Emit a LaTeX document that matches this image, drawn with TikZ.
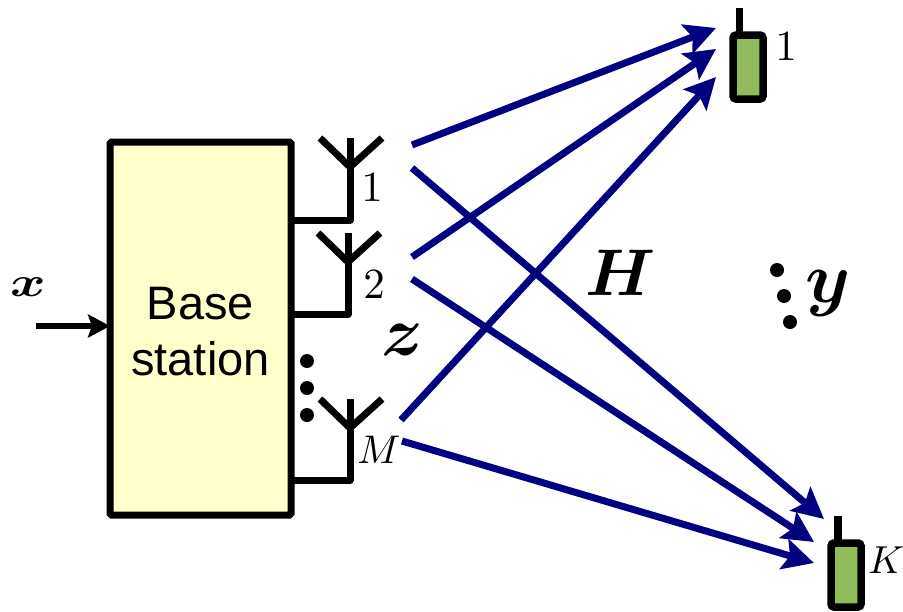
\documentclass[tikz,border=0pt]{standalone}
\usepackage{amsmath}
\usepackage{amssymb}
\usepackage{bm}
\usepackage{fontspec}
\setmainfont{Liberation Sans}
\usetikzlibrary{arrows.meta}
\definecolor{basefill}{HTML}{FFFFCC}
\definecolor{phonefill}{HTML}{92BB5C}
\definecolor{linkblue}{HTML}{000080}
\tikzset{
  every node/.style={inner sep=0pt,outer sep=0pt},
  wire/.style={draw=black,line width=7pt,line join=round},
  basebox/.style={draw=black,line width=7pt,fill=basefill,rounded corners=1.5pt,minimum width=181pt,minimum height=373pt},
  basetext/.style={align=center,font=\fontsize{47}{56}\selectfont},
  phonebody/.style={draw=black,line width=7.5pt,fill=phonefill,rounded corners=3pt,minimum width=30pt,minimum height=64pt},
  dotmark/.style={circle,fill=black,minimum size=14pt},
  link/.style={draw=linkblue,line width=7pt,-{Stealth[length=31pt,width=31pt,inset=6pt]}},
}
\begin{document}
\begin{tikzpicture}[x=1pt,y=-1pt]
\useasboundingbox (0,0) rectangle (903,611);
% base station
\node[basebox] (base) at (200.5,328.5) {};
\node[basetext,yshift=-3.5pt] (basename) at (base.center) {Base\\station};
% input
\coordinate (xin) at (36,326);
\draw[draw=black,line width=6.5pt,-{Stealth[length=22pt,width=23pt,inset=4pt]}] (xin) -- (xin -| base.west);
\node[xscale=5.4,yscale=4.2] (xlab) at (28,287) {$\boldsymbol{x}$};
% antennas
\foreach \n/\sx/\stop/\vb/\hy in {A/350/138/167/220,B/348/233/262/314,C/350/399/428/480}{
  \coordinate (\n top) at (\sx,\stop);
  \coordinate (\n v) at (\sx,\vb);
  \coordinate (\n foot) at (\sx,\hy);
  \coordinate (\n feed) at (291,\hy);
  \coordinate (\n left) at (\sx-30,\stop);
  \coordinate (\n right) at (\sx+32,\stop);
  \draw[wire] (\n top) -- (\n foot) -- (\n feed);
  \draw[wire] (\n left) -- (\n v) -- (\n right);
}
\node[scale=4.3] (l1) at (372,188) {$1$};
\node[scale=4.3] (l2) at (374,285) {$2$};
\node[scale=4] (lM) at (379,450) {$M$};
% dots by antennas
\node[dotmark] (d1) at (307,361) {};
\node[dotmark] (d2) at (307,388) {};
\node[dotmark] (d3) at (307,415) {};
% phones
\node[phonebody] (p1) at (748,67) {};
\coordinate (p1a) at (739.5,8);
\draw[wire,line width=7.5pt] (p1a) -- (739.5,33);
\node[scale=4.3] (pl1) at (786,47) {$1$};
\node[phonebody] (pK) at (846,575) {};
\coordinate (pKa) at (838,516);
\draw[wire,line width=7.5pt] (pKa) -- (838,541);
\node[scale=3.9] (plK) at (886,560) {$K$};
% links
\coordinate (s1a) at (412,145);
\coordinate (s1b) at (412,168);
\coordinate (s2a) at (412,257);
\coordinate (s2b) at (412,279);
\coordinate (s3a) at (401,420);
\coordinate (s3b) at (402,441);
\coordinate (t1a) at (716,28);
\coordinate (t1b) at (716,49);
\coordinate (t1c) at (716,77);
\coordinate (tKa) at (824,519);
\coordinate (tKb) at (814,542);
\coordinate (tKc) at (814,563);
\draw[link] (s1a) -- (t1a);
\draw[link] (s2a) -- (t1b);
\draw[link] (s3a) -- (t1c);
\draw[link] (s1b) -- (tKa);
\draw[link] (s2b) -- (tKb);
\draw[link] (s3b) -- (tKc);
% symbols
\node[scale=7] (lz) at (402,340) {$\boldsymbol{z}$};
\node[scale=6.6] (lH) at (621,273) {$\boldsymbol{H}$};
\node[scale=7.2] (ly) at (828,293) {$\boldsymbol{y}$};
\node[dotmark] (e1) at (777,270) {};
\node[dotmark] (e2) at (784,296) {};
\node[dotmark] (e3) at (790,322) {};
\end{tikzpicture}
\end{document}
